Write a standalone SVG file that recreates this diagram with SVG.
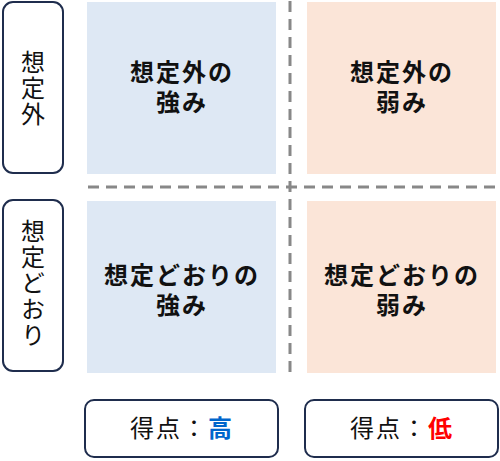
<svg xmlns="http://www.w3.org/2000/svg" width="500" height="461" viewBox="0 0 500 461">
<style>
.lbl{fill:#fff;stroke:#1F2D4D;stroke-width:2}
.vt{font-family:"Noto Sans CJK JP","Noto Sans",sans-serif;font-size:24px;fill:#111;text-anchor:middle;writing-mode:vertical-rl;letter-spacing:2px}
.q{font-family:"Noto Sans CJK JP","Noto Sans",sans-serif;font-size:24px;font-weight:bold;fill:#111;text-anchor:middle;letter-spacing:2px}
.sc{font-family:"Noto Sans CJK JP","Noto Sans",sans-serif;font-size:24px;fill:#111;text-anchor:middle;letter-spacing:2px}
.dash{stroke:#888;stroke-width:3;stroke-dasharray:11 7;fill:none}
.blue{fill:#DEE8F4}
.peach{fill:#FBE5D8}
</style>
<g id="q-tl"><rect class="blue" x="87" y="2" width="189" height="172"/><text class="q" x="182" y="81">想定外の</text><text class="q" x="182" y="111">強み</text></g>
<g id="q-tr"><rect class="peach" x="307" y="2" width="189" height="172"/><text class="q" x="402" y="81">想定外の</text><text class="q" x="402" y="111">弱み</text></g>
<g id="q-bl"><rect class="blue" x="87" y="201" width="189" height="172"/><text class="q" x="182" y="284">想定どおりの</text><text class="q" x="182" y="314">強み</text></g>
<g id="q-br"><rect class="peach" x="307" y="201" width="189" height="172"/><text class="q" x="402" y="284">想定どおりの</text><text class="q" x="402" y="314">弱み</text></g>
<g id="connectors">
<line class="dash" x1="88" y1="187" x2="497" y2="187"/>
<line class="dash" x1="290" y1="1" x2="290" y2="372"/>
</g>
<g id="label-unexpected"><rect class="lbl" x="3" y="2" width="60" height="171" rx="10"/>
<text class="vt" x="33" y="89">想定外</text></g>
<g id="label-expected"><rect class="lbl" x="3" y="200" width="60" height="171" rx="10"/>
<text class="vt" x="33" y="284">想定どおり</text></g>
<g id="score-high"><rect class="lbl" x="85" y="400" width="193" height="57" rx="9"/><text class="sc" x="182" y="437">得点：<tspan fill="#0066CC" font-weight="bold">高</tspan></text></g>
<g id="score-low"><rect class="lbl" x="305" y="400" width="193" height="57" rx="9"/><text class="sc" x="402" y="437">得点：<tspan fill="#FF0000" font-weight="bold">低</tspan></text></g>
</svg>
